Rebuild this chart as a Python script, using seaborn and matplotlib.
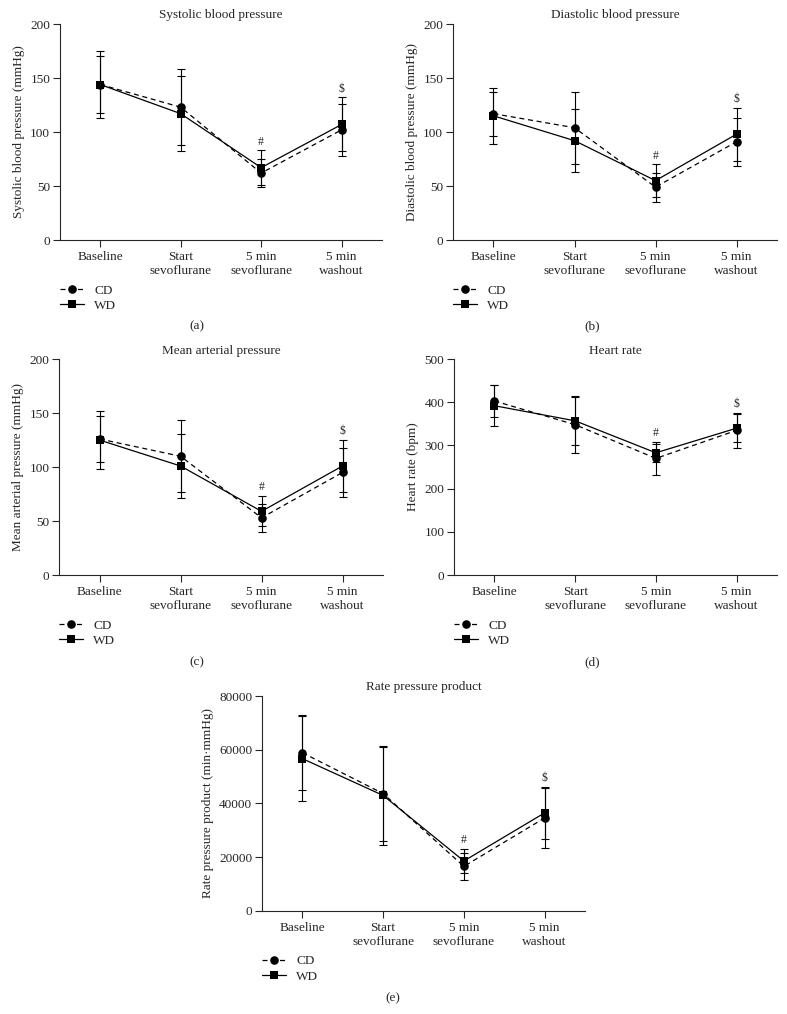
import matplotlib
matplotlib.use('Agg')
import matplotlib.pyplot as plt
import seaborn as sns
import pandas as pd

phases = ['Baseline', 'Start\nsevoflurane', '5 min\nsevoflurane', '5 min\nwashout']
sig_marks = ['', '', '#', '$']

# systolic blood pressure (mmHg), mean and SD
sbp_cd = [144, 123, 62, 102]
sbp_cd_sd = [31, 35, 13, 24]
sbp_wd = [144, 117, 67, 107]
sbp_wd_sd = [26, 35, 16, 25]

# diastolic blood pressure (mmHg)
dbp_cd = [117, 104, 49, 91]
dbp_cd_sd = [20.5, 33.5, 13.5, 22]
dbp_wd = [115, 92, 55, 98]
dbp_wd_sd = [26, 29, 15, 24.5]

# mean arterial pressure (mmHg)
map_cd = [126, 110, 53, 95]
map_cd_sd = [21.5, 33.5, 13, 22.5]
map_wd = [125, 101, 59, 101]
map_wd_sd = [27, 30, 14, 24.5]

# heart rate (bpm)
hr_cd = [403, 348, 270, 335]
hr_cd_sd = [36, 66, 38, 40]
hr_wd = [392, 357, 283, 340]
hr_wd_sd = [47, 55, 21, 33]

# rate pressure product (min·mmHg)
rpp_cd = [58900, 43700, 16600, 34600]
rpp_cd_sd = [14000, 17500, 5100, 11000]
rpp_wd = [56700, 43000, 18600, 36500]
rpp_wd_sd = [15800, 18300, 4600, 9700]

FS = 9.5

sns.set_style('ticks')
plt.rcParams['font.family'] = ['Liberation Serif', 'DejaVu Serif']
plt.rcParams['font.size'] = FS
plt.rcParams['axes.linewidth'] = 0.8
plt.rcParams['xtick.major.width'] = 0.8
plt.rcParams['ytick.major.width'] = 0.8
plt.rcParams['xtick.major.size'] = 5
plt.rcParams['ytick.major.size'] = 5


def draw_panel(ax, title, ylabel, cd, cd_sd, wd, wd_sd, ymax, ystep):
    df = pd.DataFrame({
        'Phase': phases * 2,
        'Value': cd + wd,
        'Group': ['CD'] * len(cd) + ['WD'] * len(wd),
    })
    sns.lineplot(data=df, x='Phase', y='Value', style='Group', color='black',
                 markers={'CD': 'o', 'WD': 's'}, dashes={'CD': (4, 3), 'WD': ''},
                 markersize=6.2, linewidth=0.9, markeredgewidth=0, sort=False, ax=ax)
    for vals, sd in ((cd, cd_sd), (wd, wd_sd)):
        ax.errorbar(phases, vals, yerr=sd, fmt='none', ecolor='black',
                    elinewidth=0.8, capsize=3, capthick=0.8)

    # significance marks above the highest error bar
    for i, m in enumerate(sig_marks):
        if m:
            top = max(cd[i] + cd_sd[i], wd[i] + wd_sd[i])
            ax.annotate(m, (i, top), xytext=(0, 2), textcoords='offset points',
                        ha='center', va='bottom', fontsize=8.5)

    ax.set_xlim(-0.5, 3.5)
    ax.set_ylim(0, ymax)
    ax.set_yticks(range(0, ymax + 1, ystep))
    ax.set_title(title, fontsize=FS, pad=4)
    ax.set_xlabel('')
    ax.set_ylabel(ylabel, fontsize=FS, labelpad=4)
    ax.tick_params(axis='x', labelsize=FS, pad=3)
    ax.tick_params(axis='y', labelsize=FS, pad=2)
    sns.despine(ax=ax)
    sns.move_legend(ax, 'upper left', bbox_to_anchor=(0, -0.205), title=None,
                    frameon=False, fontsize=FS, handlelength=1.8, handletextpad=0.8,
                    labelspacing=0.25, borderpad=0, borderaxespad=0)


fig = plt.figure(figsize=(7.87, 10.14), dpi=100)
ax_a = fig.add_axes([0.0762, 0.7633, 0.409, 0.213])
ax_b = fig.add_axes([0.5756, 0.7633, 0.4117, 0.213])
ax_c = fig.add_axes([0.0750, 0.4329, 0.4117, 0.213])
ax_d = fig.add_axes([0.5769, 0.4329, 0.4104, 0.213])
ax_e = fig.add_axes([0.3329, 0.1016, 0.4104, 0.212])

draw_panel(ax_a, 'Systolic blood pressure', 'Systolic blood pressure (mmHg)',
           sbp_cd, sbp_cd_sd, sbp_wd, sbp_wd_sd, 200, 50)
draw_panel(ax_b, 'Diastolic blood pressure', 'Diastolic blood pressure (mmHg)',
           dbp_cd, dbp_cd_sd, dbp_wd, dbp_wd_sd, 200, 50)
draw_panel(ax_c, 'Mean arterial pressure', 'Mean arterial pressure (mmHg)',
           map_cd, map_cd_sd, map_wd, map_wd_sd, 200, 50)
draw_panel(ax_d, 'Heart rate', 'Heart rate (bpm)',
           hr_cd, hr_cd_sd, hr_wd, hr_wd_sd, 500, 100)
draw_panel(ax_e, 'Rate pressure product', 'Rate pressure product (min\u00b7mmHg)',
           rpp_cd, rpp_cd_sd, rpp_wd, rpp_wd_sd, 80000, 20000)

fig.text(0.250, 1 - 326 / 1014, '(a)', ha='center', va='center', fontsize=FS)
fig.text(0.752, 1 - 326 / 1014, '(b)', ha='center', va='center', fontsize=FS)
fig.text(0.250, 1 - 662 / 1014, '(c)', ha='center', va='center', fontsize=FS)
fig.text(0.752, 1 - 662 / 1014, '(d)', ha='center', va='center', fontsize=FS)
fig.text(0.499, 1 - 998 / 1014, '(e)', ha='center', va='center', fontsize=FS)

fig.savefig('out.png', dpi=100)
